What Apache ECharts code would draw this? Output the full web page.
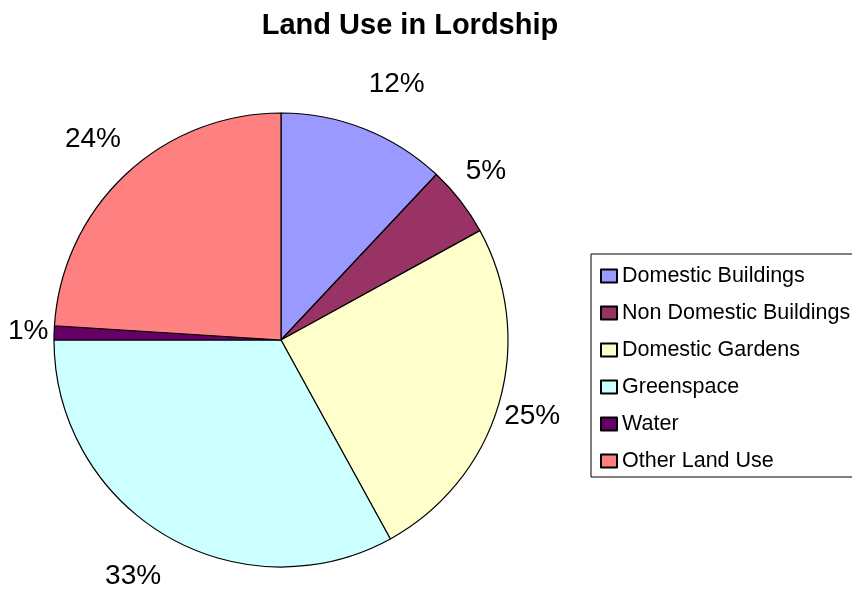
<!DOCTYPE html>
<html>
<head>
<meta charset="utf-8">
<script src="https://cdn.jsdelivr.net/npm/echarts@6/dist/echarts.min.js"></script>
<style>
  html, body { margin: 0; padding: 0; background: #fff; }
  #chart { width: 852px; height: 592px; }
</style>
</head>
<body>
<div id="chart"></div>
<script>
// land use shares, clockwise from 12 o'clock
var categories = ["Domestic Buildings", "Non Domestic Buildings", "Domestic Gardens", "Greenspace", "Water", "Other Land Use"];
var shares = [12, 5, 25, 33, 1, 24];
var colors = ["#9999FF", "#993366", "#FFFFCC", "#CCFFFF", "#660066", "#FF8080"];

var font = "'Liberation Sans', Arial, sans-serif";
var pieX = 281, pieY = 340;

var pieData = [];
for (var i = 0; i < categories.length; i++) {
	pieData.push({ name: categories[i], value: shares[i] });
}

var chart = echarts.init(document.getElementById("chart"));
chart.setOption({
	backgroundColor: "#fff",
	animation: false,
	color: colors,
	title: {
		text: "Land Use in Lordship",
		left: 405,
		textAlign: "center",
		top: 6,
		textStyle: { fontFamily: font, fontSize: 29, fontWeight: "bold", color: "#000" }
	},
	legend: {
		orient: "vertical",
		left: 591,
		top: 254,
		padding: [11, 10, 5, 9],
		itemGap: 15,
		itemWidth: 16,
		itemHeight: 13,
		itemTextGap: 4,
		icon: "rect",
		borderColor: "#000",
		borderWidth: 1,
		textStyle: { fontFamily: font, fontSize: 21.5, lineHeight: 22, color: "#000" },
		data: categories
	},
	series: [{
		type: "pie",
		center: [pieX, pieY],
		radius: 227,
		startAngle: 90,
		clockwise: true,
		data: pieData,
		itemStyle: { borderColor: "#000", borderWidth: 1.2 },
		label: {
			show: true,
			position: "outside",
			formatter: "{c}%",
			fontFamily: font,
			fontSize: 28,
			color: "#000",
			overflow: "none",
			bleedMargin: -60
		},
		labelLine: { show: false, length: 14, length2: 0 },
		// the original pie is a tall ellipse: push labels out vertically, pull in horizontally
		labelLayout: function (p) {
			var r = p.labelRect;
			var cx = r.x + r.width / 2;
			var cy = r.y + r.height / 2;
			return {
				x: pieX + (cx - pieX) * 0.95,
				y: pieY + (cy - pieY) * 1.14,
				align: "center",
				verticalAlign: "middle"
			};
		},
		emphasis: { disabled: true }
	}]
});
</script>
</body>
</html>
